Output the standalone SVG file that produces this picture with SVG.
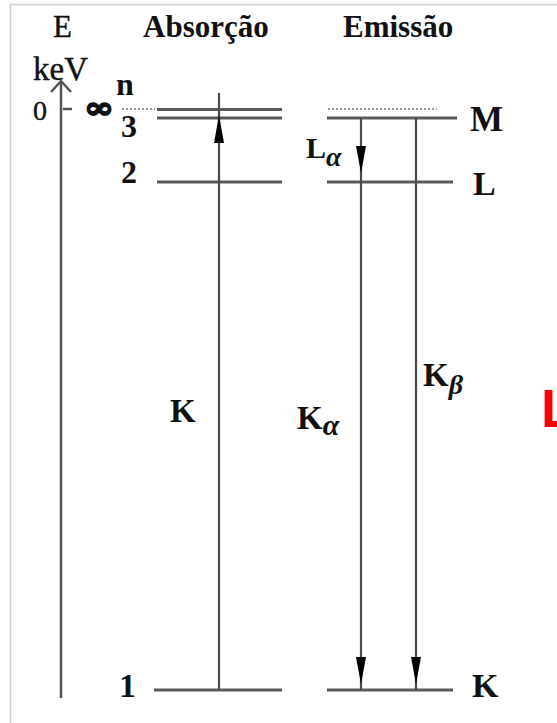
<svg xmlns="http://www.w3.org/2000/svg" xmlns:xlink="http://www.w3.org/1999/xlink" width="557" height="723" viewBox="0 0 557 723">
<style>
.frame{stroke:#cfcfcf;stroke-width:1.5;fill:none}
.lvl{stroke:#5a5a5a;stroke-width:3;fill:none}
.dot{stroke:#7a7a7a;stroke-width:1.5;stroke-dasharray:2,2;fill:none}
.vl{stroke:#4a4a4a;stroke-width:2.2;fill:none}
.ax{stroke:#555;stroke-width:2.5;fill:none}
.t{font-family:"Liberation Serif","Times New Roman",serif;fill:#111}
.b{font-weight:bold}
.i{font-style:italic}
.ah{fill:#000}
</style>
<defs>
<path id="ahUp" d="M0,0 L5,28 L-5,28 Z"/>
<path id="ahDown" d="M-5,0 L5,0 L0,27 Z"/>
</defs>
<rect width="557" height="723" fill="#fff"/>
<path class="frame" d="M10.5,723 V4.5 H557"/>

<g id="axis">
<line class="ax" x1="61" y1="81" x2="61" y2="698"/>
<path class="ax" d="M51,92 L61,81 L71,92"/>
<line class="ax" x1="63" y1="109" x2="72" y2="109"/>
<text class="t" x="53" y="37" font-size="31" stroke="#111" stroke-width="0.4">E</text>
<text class="t" x="33" y="80" font-size="33" stroke="#111" stroke-width="0.4">keV</text>
<text class="t" x="33" y="120" font-size="28" stroke="#111" stroke-width="0.4">0</text>
<text x="99" y="118" font-family="DejaVu Serif, serif" font-weight="bold" font-size="30" fill="#111" stroke="#111" stroke-width="1.6" text-anchor="middle" textLength="30" lengthAdjust="spacingAndGlyphs">∞</text>
<text class="t b" x="116" y="95" font-size="32">n</text>
</g>

<g id="absorcao">
<text class="t b" x="143" y="37" font-size="31">Absorção</text>
<line class="dot" x1="122" y1="109" x2="155" y2="109"/>
<line class="lvl" x1="157" y1="109.5" x2="282" y2="109.5"/>
<line class="lvl" x1="157" y1="118" x2="282" y2="118"/>
<line class="lvl" x1="157" y1="182" x2="282" y2="182"/>
<line class="lvl" x1="154" y1="690" x2="282" y2="690"/>
<text class="t b" x="121" y="137" font-size="32">3</text>
<text class="t b" x="121" y="183" font-size="32">2</text>
<text class="t b" x="119" y="697" font-size="34">1</text>
</g>

<g id="emissao">
<text class="t b" x="343" y="37" font-size="31">Emissão</text>
<line class="dot" x1="328" y1="109" x2="437" y2="109"/>
<line class="lvl" x1="327" y1="118" x2="457" y2="118"/>
<line class="lvl" x1="327" y1="182" x2="453" y2="182"/>
<line class="lvl" x1="327" y1="690" x2="453" y2="690"/>
<text class="t b" x="470" y="131" font-size="35">M</text>
<text class="t b" x="473" y="195" font-size="34">L</text>
<text class="t b" x="472" y="697" font-size="34">K</text>
</g>

<g id="connectors">
<line class="vl" x1="219" y1="93" x2="219" y2="690"/>
<use xlink:href="#ahUp" class="ah" x="219" y="115"/>
<line class="vl" x1="361" y1="118" x2="361" y2="690"/>
<use xlink:href="#ahDown" class="ah" x="361" y="146"/>
<use xlink:href="#ahDown" class="ah" x="361" y="657"/>
<line class="vl" x1="416" y1="118" x2="416" y2="690"/>
<use xlink:href="#ahDown" class="ah" x="416" y="657"/>
</g>

<g id="labels">
<text class="t b" x="170" y="422" font-size="33">K</text>
<text class="t b" x="297" y="429" font-size="33">K<tspan class="i" font-size="30" dy="6">α</tspan></text>
<text class="t b" x="423" y="386" font-size="33">K<tspan class="i" font-size="28" dy="8">β</tspan></text>
<text class="t b" x="306" y="158" font-size="30">L<tspan class="i" font-size="28" dy="8">α</tspan></text>
</g>

<text x="541" y="427" font-family="Liberation Sans, Arial, sans-serif" font-weight="bold" font-size="54" fill="#ff0000">L</text>
</svg>
